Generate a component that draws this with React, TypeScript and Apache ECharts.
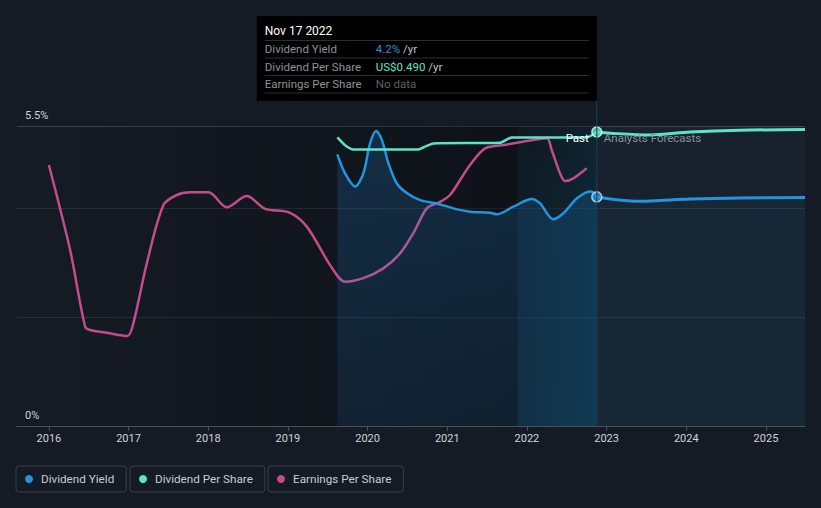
import React, { useEffect, useRef } from 'react';
import * as echarts from 'echarts';

const BG = '#151b24';
const FONT = 'Roboto, "Open Sans", sans-serif';
const BLUE = '#2394df';
const TEAL = '#5de4c7';
const PINK = '#c44b8e';

const yearTicks = [2016, 2017, 2018, 2019, 2020, 2021, 2022, 2023, 2024, 2025];
const xMin = 2015.6;
const xMax = 2025.49;
const lastYearStart = 2021.88;
const pointYear = 2022.877;
const pointDate = 'Nov 17 2022';
const pointYield = 4.2;
const pointDps = 0.49;

const yieldPast: [number, number][] = [
  [2019.621, 4.98], [2019.718, 4.63], [2019.843, 4.39], [2019.947, 4.63],
  [2020.031, 5.18], [2020.107, 5.41], [2020.178, 5.25], [2020.261, 4.82],
  [2020.366, 4.45], [2020.492, 4.27], [2020.659, 4.14], [2020.868, 4.08],
  [2021.077, 3.99], [2021.286, 3.93], [2021.537, 3.91], [2021.621, 3.88],
  [2021.83, 4.02], [2022.06, 4.16], [2022.164, 4.08], [2022.331, 3.79],
  [2022.457, 3.9], [2022.625, 4.17], [2022.792, 4.3], [2022.834, 4.28],
  [2022.877, 4.2],
];
const yieldForecast: [number, number][] = [
  [2022.877, 4.2], [2023.4, 4.12], [2024.05, 4.16], [2024.67, 4.18], [2025.49, 4.19],
];
const dpsPast: [number, number][] = [
  [2019.621, 0.481], [2019.718, 0.468], [2019.822, 0.461], [2020.637, 0.461],
  [2020.743, 0.467], [2020.826, 0.471], [2021.663, 0.472], [2021.809, 0.481],
  [2022.75, 0.481], [2022.877, 0.49],
];
const dpsForecast: [number, number][] = [
  [2022.877, 0.49], [2023.044, 0.488], [2023.546, 0.485], [2024.048, 0.49],
  [2024.675, 0.493], [2025.49, 0.494],
];
const epsPast: [number, number][] = [
  [2016.0, 0.957], [2016.267, 0.645], [2016.455, 0.364], [2016.518, 0.352],
  [2016.728, 0.342], [2016.986, 0.33], [2017.061, 0.377], [2017.23, 0.597],
  [2017.438, 0.81], [2017.606, 0.847], [2017.773, 0.857], [2018.003, 0.857],
  [2018.233, 0.802], [2018.484, 0.843], [2018.714, 0.796], [2019.006, 0.784],
  [2019.237, 0.731], [2019.53, 0.59], [2019.718, 0.529], [2019.947, 0.542],
  [2020.198, 0.578], [2020.408, 0.633], [2020.575, 0.707], [2020.743, 0.798],
  [2020.91, 0.822], [2021.035, 0.847], [2021.161, 0.902], [2021.286, 0.957],
  [2021.474, 1.018], [2021.704, 1.03], [2021.998, 1.045], [2022.249, 1.055],
  [2022.311, 1.012], [2022.415, 0.927], [2022.478, 0.898], [2022.582, 0.908],
  [2022.75, 0.945],
];

const legendNames = ['Dividend Yield', 'Dividend Per Share', 'Earnings Per Share'];
const legendLefts = [16, 130, 268];

export default function App() {
  const ref = useRef<HTMLDivElement>(null);
  useEffect(() => {
    document.body.style.margin = '0';
    document.body.style.background = BG;
    const chart = echarts.init(ref.current!, null, { renderer: 'svg' });
    const legendCommon = {
      top: 466,
      icon: 'circle',
      itemWidth: 14,
      itemHeight: 8,
      borderColor: '#3a404a',
      borderWidth: 1,
      borderRadius: 3,
      padding: [7, 12, 7, 9],
      selectedMode: false,
      textStyle: { color: '#c7cbd1', fontSize: 11.7, fontFamily: FONT },
    };
    chart.setOption({
      animation: false,
      backgroundColor: BG,
      textStyle: { fontFamily: FONT },
      grid: { left: 17, right: 16, top: 126, bottom: 82, containLabel: false },
      legend: legendNames.map((n, i) => ({ ...legendCommon, data: [n], left: legendLefts[i] })),
      xAxis: {
        type: 'value',
        min: xMin,
        max: xMax,
        splitLine: { show: false },
        axisLine: { lineStyle: { color: '#4a5059', width: 1 } },
        axisTick: { customValues: yearTicks, length: 5, lineStyle: { color: '#4a5059' } },
        axisLabel: {
          customValues: yearTicks,
          formatter: (v: number) => String(Math.round(v)),
          color: '#d0d3d8',
          fontSize: 11,
          margin: 7,
          fontFamily: FONT,
        },
      },
      yAxis: [
        {
          type: 'value',
          min: 0,
          max: 5.5,
          interval: 2,
          axisLine: { show: false },
          axisTick: { show: false },
          splitLine: { lineStyle: { color: ['#2a3039', '#2a3039', '#2a3039', '#3d434c'], width: 1 } },
          axisLabel: {
            inside: true,
            margin: 8,
            verticalAlign: 'bottom',
            padding: [0, 0, 5, 0],
            color: '#d0d3d8',
            fontSize: 11,
            fontFamily: FONT,
            formatter: (v: number) => (v === 0 || v === 5.5 ? `${v}%` : ''),
          },
        },
        { type: 'value', min: 0, max: 0.5, show: false },
        { type: 'value', min: 0, max: 1.1, show: false },
      ],
      series: [
        {
          name: 'Earnings Per Share',
          type: 'line',
          yAxisIndex: 2,
          data: epsPast,
          color: PINK,
          smooth: 0.3,
          symbol: 'none',
          lineStyle: { width: 2.5, color: PINK },
          z: 3,
          markArea: {
            silent: true,
            data: [
              [
                {
                  xAxis: xMin,
                  itemStyle: {
                    color: new echarts.graphic.LinearGradient(0, 0, 1, 0, [
                      { offset: 0, color: 'rgba(0,0,0,0)' },
                      { offset: 1, color: 'rgba(0,0,0,0.38)' },
                    ]),
                  },
                },
                { xAxis: pointYear },
              ],
              [
                {
                  xAxis: lastYearStart,
                  itemStyle: {
                    color: new echarts.graphic.LinearGradient(0, 0, 1, 1, [
                      { offset: 0, color: 'rgba(20,130,175,0.05)' },
                      { offset: 1, color: 'rgba(20,140,190,0.26)' },
                    ]),
                  },
                },
                { xAxis: pointYear },
              ],
              [
                { xAxis: pointYear, itemStyle: { color: 'rgba(40,65,95,0.18)' } },
                { xAxis: xMax },
              ],
            ],
          },
        },
        {
          name: 'Dividend Yield',
          type: 'line',
          data: yieldPast,
          color: BLUE,
          smooth: 0.3,
          symbol: 'none',
          lineStyle: { width: 2.5, color: BLUE },
          areaStyle: {
            color: new echarts.graphic.LinearGradient(0, 0, 0, 1, [
              { offset: 0, color: 'rgba(33,150,243,0.27)' },
              { offset: 1, color: 'rgba(33,150,243,0.14)' },
            ]),
          },
          z: 4,
        },
        {
          name: 'Dividend Yield',
          type: 'line',
          data: yieldForecast,
          color: BLUE,
          smooth: 0.3,
          symbol: 'none',
          lineStyle: { width: 3, color: BLUE },
          areaStyle: { color: 'rgba(33,150,243,0.07)' },
          z: 4,
        },
        {
          name: 'Dividend Per Share',
          type: 'line',
          yAxisIndex: 1,
          data: dpsPast,
          color: TEAL,
          smooth: 0.2,
          symbol: 'none',
          lineStyle: { width: 2.5, color: TEAL },
          z: 4,
        },
        {
          name: 'Dividend Per Share',
          type: 'line',
          yAxisIndex: 1,
          data: dpsForecast,
          color: TEAL,
          smooth: 0.3,
          symbol: 'none',
          lineStyle: { width: 3, color: TEAL },
          z: 4,
        },
        {
          name: 'yieldPoint',
          type: 'scatter',
          data: [[pointYear, pointYield]],
          symbolSize: 10,
          itemStyle: { color: BLUE, borderColor: '#cfe6f7', borderWidth: 1.5 },
          z: 6,
        },
        {
          name: 'dpsPoint',
          type: 'scatter',
          yAxisIndex: 1,
          data: [[pointYear, pointDps]],
          symbolSize: 10,
          itemStyle: { color: TEAL, borderColor: '#e0fff8', borderWidth: 1.5 },
          z: 6,
        },
      ],
    });

    const px = chart.convertToPixel({ xAxisIndex: 0 }, pointYear) as number;
    const yBottom = chart.convertToPixel({ yAxisIndex: 0 }, 0) as number;
    const yTop = chart.convertToPixel({ yAxisIndex: 0 }, 5.5) as number;
    const boxW = 340;
    const boxTop = 16;
    const boxH = 85;
    const bx = px - boxW;
    const rows = [
      { label: 'Dividend Yield', value: '{a|4.2%}{b| /yr}', y: 49 },
      { label: 'Dividend Per Share', value: '{c|US$0.490}{b| /yr}', y: 67 },
      { label: 'Earnings Per Share', value: '{d|No data}', y: 84 },
    ];
    const sepYs = [40.5, 58, 75.5, 93];
    const fs = 11.5;
    chart.setOption({
      graphic: [
        {
          type: 'line',
          silent: true,
          z: 50,
          shape: { x1: px, y1: boxTop + boxH, x2: px, y2: yBottom },
          style: { stroke: '#1d4152', lineWidth: 1 },
        },
        {
          type: 'text',
          z: 50,
          x: px - 8,
          y: yTop + 12,
          style: { text: 'Past', fill: '#ffffff', fontSize: fs, fontFamily: FONT, align: 'right', verticalAlign: 'middle' },
        },
        {
          type: 'text',
          z: 50,
          x: px + 7,
          y: yTop + 12,
          style: { text: 'Analysts Forecasts', fill: '#8a8f98', fontSize: fs, fontFamily: FONT, align: 'left', verticalAlign: 'middle' },
        },
        {
          type: 'rect',
          z: 60,
          shape: { x: bx, y: boxTop, width: boxW, height: boxH },
          style: { fill: '#000000' },
        },
        {
          type: 'text',
          z: 61,
          x: bx + 8,
          y: 31,
          style: { text: pointDate, fill: '#ffffff', fontSize: 12, fontFamily: FONT, verticalAlign: 'middle' },
        },
        ...sepYs.map((sy) => ({
          type: 'line',
          z: 61,
          shape: { x1: bx + 8, y1: sy, x2: px - 8, y2: sy },
          style: { stroke: '#2a2e35', lineWidth: 1 },
        })),
        ...rows.map((r) => ({
          type: 'text',
          z: 61,
          x: bx + 8,
          y: r.y,
          style: { text: r.label, fill: '#8e939b', fontSize: fs, fontFamily: FONT, verticalAlign: 'middle' },
        })),
        ...rows.map((r) => ({
          type: 'text',
          z: 61,
          x: bx + 119,
          y: r.y,
          style: {
            text: r.value,
            fontSize: fs,
            fontFamily: FONT,
            verticalAlign: 'middle',
            rich: {
              a: { fill: BLUE, fontSize: fs, fontFamily: FONT },
              b: { fill: '#c3c7cd', fontSize: fs, fontFamily: FONT },
              c: { fill: TEAL, fontSize: fs, fontFamily: FONT },
              d: { fill: '#5b6068', fontSize: fs, fontFamily: FONT },
            },
          },
        })),
      ],
    });
    return () => chart.dispose();
  }, []);
  return <div ref={ref} style={{ width: 821, height: 508, background: BG }} />;
}
